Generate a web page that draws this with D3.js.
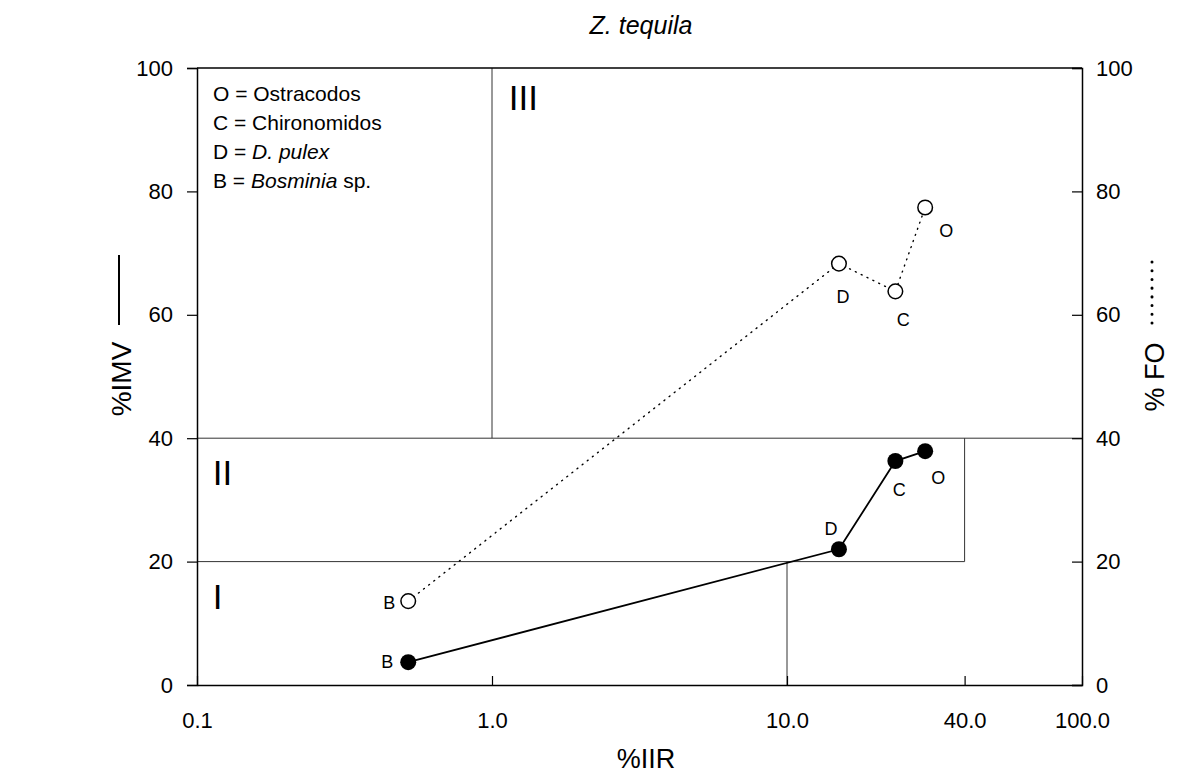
<!DOCTYPE html>
<html>
<head>
<meta charset="utf-8">
<script src="https://cdn.jsdelivr.net/npm/d3@7"></script>
<style>
  body { margin: 0; background: #fff; }
  text { font-family: "Liberation Sans", Arial, sans-serif; fill: #000; }
</style>
</head>
<body>
<div id="chart"></div>
<script>
// prey categories (same order in every array)
var prey = ["B", "D", "C", "O"];
// %IIR (x, log scale)
var iir = [0.52, 15.0, 23.3, 29.4];
// %IMV (left axis, solid line, filled dots)
var imv = [3.7, 22.0, 36.3, 37.9];
// %FO (right axis, dotted line, open dots)
var fo = [13.6, 68.3, 63.8, 77.4];

var xTicks = [0.1, 1, 10, 40, 100];
var yTicks = [0, 20, 40, 60, 80, 100];

// zone boundaries, in data units [x1, y1, x2, y2]
var zones = [
  [1, 40, 1, 100],
  [0.1, 40, 100, 40],
  [0.1, 20, 40, 20],
  [40, 20, 40, 40],
  [10, 0, 10, 20]
];
var zoneNames = [["III", 1.14, 95.2], ["II", 0.113, 34.4], ["I", 0.113, 14.3]];

var legendLines = [
  ["O = ", "Ostracodos", ""],
  ["C = ", "Chironomidos", ""],
  ["D = ", "", "D. pulex"],
  ["B = ", "", "Bosminia", " sp."]
];

// label offsets (px) for each point
var imvOffset = [[-21, 0], [-8, -21], [4, 29], [13, 27]];
var foOffset = [[-19, 2], [4, 33], [8, 28], [21, 23]];

var svgWidth = 1185, svgHeight = 778;
var margin = { top: 68, right: 103, bottom: 93, left: 197 };
var width = svgWidth - margin.left - margin.right;
var height = svgHeight - margin.top - margin.bottom;

var svg = d3.select("#chart").append("svg")
  .attr("width", svgWidth)
  .attr("height", svgHeight);

var g = svg.append("g")
  .attr("transform", `translate(${margin.left}, ${margin.top})`);

var x = d3.scaleLog().domain([0.1, 100]).range([0, width]);
var y = d3.scaleLinear().domain([0, 100]).range([height, 0]);

// zone lines
g.selectAll(".zone").data(zones).enter().append("line")
  .attr("x1", d => x(d[0])).attr("y1", d => y(d[1]))
  .attr("x2", d => x(d[2])).attr("y2", d => y(d[3]))
  .attr("stroke", "#333").attr("stroke-width", 1);

g.selectAll(".zname").data(zoneNames).enter().append("text")
  .attr("x", d => x(d[1])).attr("y", d => y(d[2]))
  .attr("dy", "0.35em")
  .attr("font-size", "35px")
  .text(d => d[0]);

// axes
var fmtX = d => d === 0.1 ? "0.1" : d3.format(".1f")(d);
var bottomAxis = d3.axisBottom(x).tickValues(xTicks).tickFormat(fmtX)
  .tickSizeInner(-9).tickSizeOuter(0).tickPadding(27);
var leftAxis = d3.axisLeft(y).tickValues(yTicks).tickSizeOuter(0).tickSize(10).tickPadding(14);
var rightAxis = d3.axisRight(y).tickValues(yTicks).tickSizeOuter(0).tickSize(-10).tickPadding(14);

function styleAxis(sel) {
  sel.select(".domain").attr("stroke", "#000").attr("stroke-width", 1.5);
  sel.selectAll(".tick line").attr("stroke", "#000").attr("stroke-width", 1.2);
  sel.selectAll(".tick text").attr("font-size", "22px")
    .attr("font-family", "Liberation Sans, Arial, sans-serif");
}

g.append("g").attr("transform", `translate(0, ${height})`).call(bottomAxis).call(styleAxis);
g.append("g").call(leftAxis).call(styleAxis);
g.append("g").attr("transform", `translate(${width}, 0)`).call(rightAxis).call(styleAxis);
// top border
g.append("line").attr("x1", 0).attr("x2", width).attr("y1", 0).attr("y2", 0)
  .attr("stroke", "#000").attr("stroke-width", 1.5);

// lines
var pts = prey.map((p, i) => ({ p: p, x: iir[i], imv: imv[i], fo: fo[i], i: i }));

g.append("path").datum(pts)
  .attr("fill", "none").attr("stroke", "#000").attr("stroke-width", 1.4)
  .attr("stroke-dasharray", "1,5.5").attr("stroke-linecap", "round")
  .attr("d", d3.line().x(d => x(d.x)).y(d => y(d.fo)));

g.append("path").datum(pts)
  .attr("fill", "none").attr("stroke", "#000").attr("stroke-width", 1.8)
  .attr("d", d3.line().x(d => x(d.x)).y(d => y(d.imv)));

// points
g.selectAll(".fo").data(pts).enter().append("circle")
  .attr("cx", d => x(d.x)).attr("cy", d => y(d.fo)).attr("r", 7.3)
  .attr("fill", "#fff").attr("stroke", "#000").attr("stroke-width", 1.5);

g.selectAll(".imv").data(pts).enter().append("circle")
  .attr("cx", d => x(d.x)).attr("cy", d => y(d.imv)).attr("r", 8)
  .attr("fill", "#000");

// point labels
g.selectAll(".foLab").data(pts).enter().append("text")
  .attr("x", d => x(d.x) + foOffset[d.i][0]).attr("y", d => y(d.fo) + foOffset[d.i][1])
  .attr("dy", "0.35em").attr("text-anchor", "middle").attr("font-size", "18px")
  .text(d => d.p);

g.selectAll(".imvLab").data(pts).enter().append("text")
  .attr("x", d => x(d.x) + imvOffset[d.i][0]).attr("y", d => y(d.imv) + imvOffset[d.i][1])
  .attr("dy", "0.35em").attr("text-anchor", "middle").attr("font-size", "18px")
  .text(d => d.p);

// legend
var leg = g.selectAll(".leg").data(legendLines).enter().append("text")
  .attr("x", 16).attr("y", (d, i) => 26 + i * 29)
  .attr("dy", "0.35em").attr("font-size", "21px");
leg.each(function(d) {
  var t = d3.select(this);
  t.append("tspan").text(d[0]);
  if (d[1]) t.append("tspan").text(d[1]);
  if (d[2]) t.append("tspan").attr("font-style", "italic").text(d[2]);
  if (d[3]) t.append("tspan").text(d[3]);
});

// title and axis titles
svg.append("text").attr("x", 641).attr("y", 25)
  .attr("dy", "0.35em").attr("text-anchor", "middle")
  .attr("font-size", "25px").attr("font-style", "italic")
  .text("Z. tequila");

svg.append("text").attr("x", 646).attr("y", 759)
  .attr("dy", "0.35em").attr("text-anchor", "middle")
  .attr("font-size", "27px").text("%IIR");

svg.append("text").attr("transform", "translate(121, 379) rotate(-90)")
  .attr("dy", "0.35em").attr("text-anchor", "middle")
  .attr("font-size", "28px").text("%IMV");
svg.append("line").attr("x1", 119).attr("x2", 119).attr("y1", 255).attr("y2", 325)
  .attr("stroke", "#000").attr("stroke-width", 2);

svg.append("text").attr("transform", "translate(1155, 377) rotate(-90)")
  .attr("dy", "0.35em").attr("text-anchor", "middle")
  .attr("font-size", "27px").text("% FO");
svg.append("line").attr("x1", 1152).attr("x2", 1152).attr("y1", 262).attr("y2", 323)
  .attr("stroke", "#000").attr("stroke-width", 3)
  .attr("stroke-dasharray", "0.1,8.6").attr("stroke-linecap", "round");
</script>
</body>
</html>
